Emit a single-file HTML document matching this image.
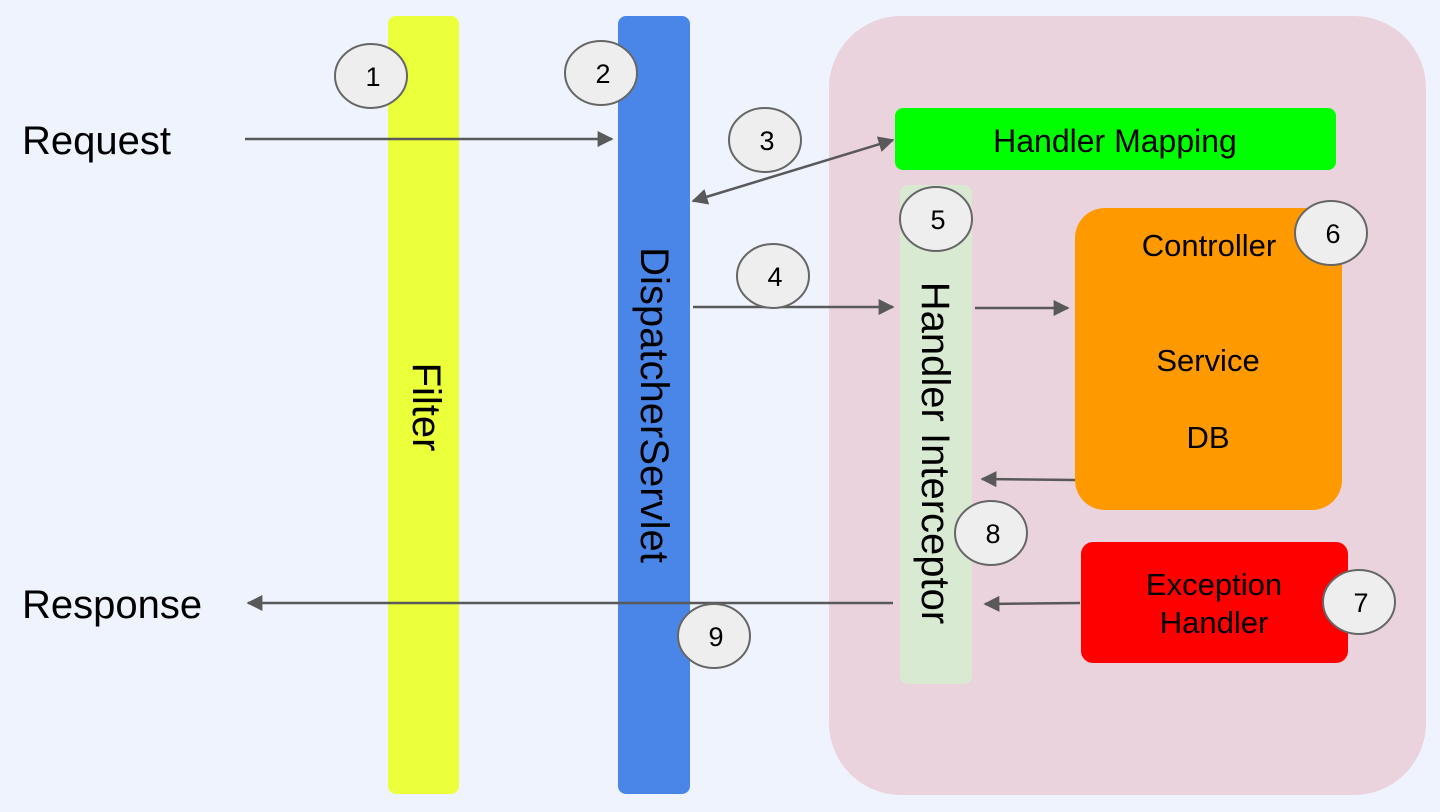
<!DOCTYPE html>
<html><head><meta charset="utf-8"><style>
html,body{margin:0;padding:0;background:#eef3fd;}
svg{display:block;font-family:"Liberation Sans",sans-serif;}
</style></head><body>
<svg width="1440" height="812" viewBox="0 0 1440 812" xmlns="http://www.w3.org/2000/svg">
<defs>
<marker id="b" viewBox="0 0 10 10" refX="9" refY="5" markerWidth="20" markerHeight="16" orient="auto-start-reverse" markerUnits="userSpaceOnUse"><path d="M0,0 L10,5 L0,10 z" fill="#595959"/></marker>
</defs>
<rect width="1440" height="812" fill="#eef3fd"/>
<rect x="829" y="16" width="597" height="779" rx="72" fill="#ead3dd"/>
<rect x="388" y="16" width="71" height="778" rx="8" fill="#ebff3a"/>
<rect x="618" y="16" width="72" height="778" rx="8" fill="#4a86e8"/>
<rect x="895" y="108" width="441" height="62" rx="8" fill="#00ff00"/>
<rect x="900" y="185" width="72" height="499" rx="8" fill="#d9ead3"/>
<rect x="1075" y="208" width="267" height="302" rx="30" fill="#ff9900"/>
<rect x="1081" y="542" width="267" height="121" rx="12" fill="#ff0000"/>
<g fill="#000" font-size="31" text-anchor="middle">
<text x="1115" y="152" font-size="32">Handler Mapping</text>
<text x="1209" y="256">Controller</text>
<text x="1208" y="371">Service</text>
<text x="1208" y="448">DB</text>
<text x="1214" y="595">Exception</text>
<text x="1214" y="633">Handler</text>
</g>
<g font-size="40" fill="#000">
<text x="22" y="154">Request</text>
<text x="22" y="618">Response</text>
</g>
<g font-size="40" fill="#000" text-anchor="middle">
<text transform="translate(413,407) rotate(90)">Filter</text>
<text transform="translate(641,405) rotate(90)">DispatcherServlet</text>
<text transform="translate(922,453) rotate(90)">Handler Interceptor</text>
</g>
<g stroke="#595959" stroke-width="2.5" fill="none">
<line x1="245" y1="139" x2="612" y2="139" marker-end="url(#b)"/>
<line x1="693" y1="201" x2="893" y2="140" marker-end="url(#b)" marker-start="url(#b)"/>
<line x1="693" y1="307" x2="893" y2="307" marker-end="url(#b)"/>
<line x1="975" y1="308" x2="1068" y2="308" marker-end="url(#b)"/>
<line x1="1075" y1="480" x2="982" y2="479" marker-end="url(#b)"/>
<line x1="1080" y1="603" x2="985" y2="604" marker-end="url(#b)"/>
<line x1="893" y1="603" x2="248" y2="603" marker-end="url(#b)"/>
</g>
<g fill="#eeeeee" stroke="#666" stroke-width="2">
<ellipse cx="371" cy="76" rx="36" ry="32"/>
<ellipse cx="601" cy="73" rx="36" ry="32"/>
<ellipse cx="765" cy="140" rx="36" ry="32"/>
<ellipse cx="773" cy="276" rx="36" ry="32"/>
<ellipse cx="936" cy="219" rx="36" ry="32"/>
<ellipse cx="1331" cy="233" rx="36" ry="32"/>
<ellipse cx="1359" cy="602" rx="36" ry="32"/>
<ellipse cx="991" cy="533" rx="36" ry="32"/>
<ellipse cx="714" cy="636" rx="36" ry="32"/>
</g>
<g font-size="27" fill="#000" text-anchor="middle">
<text x="373" y="86">1</text>
<text x="603" y="83">2</text>
<text x="767" y="150">3</text>
<text x="775" y="286">4</text>
<text x="938" y="229">5</text>
<text x="1333" y="243">6</text>
<text x="1361" y="612">7</text>
<text x="993" y="543">8</text>
<text x="716" y="646">9</text>
</g>
</svg>
</body></html>
